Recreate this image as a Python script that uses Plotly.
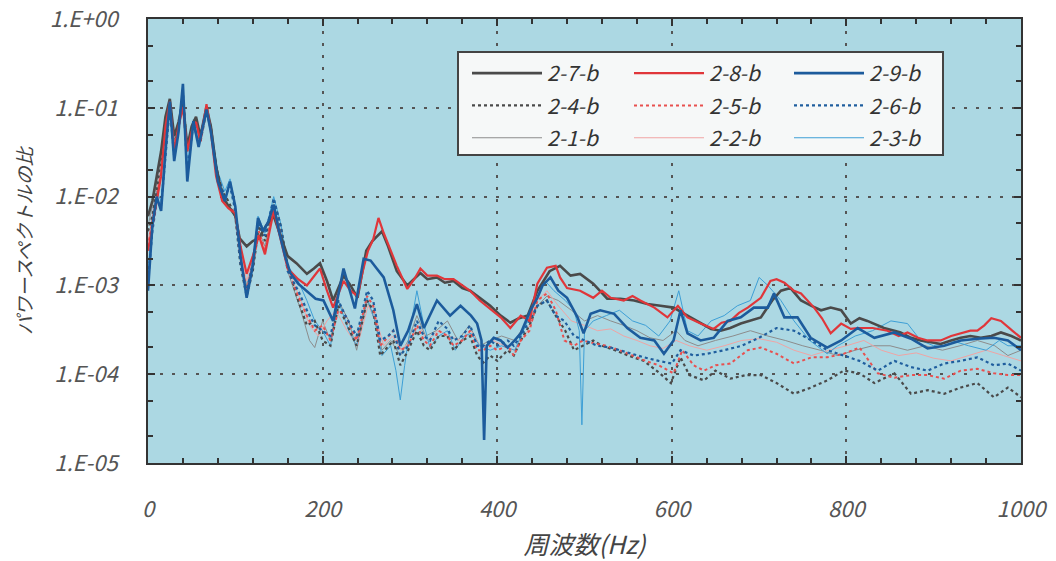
import numpy as np
import plotly.graph_objects as go

# Frequency (Hz) and log10 of the power-spectrum ratio for each record

freq_27b = [0, 5, 10, 15, 20, 25, 30, 35, 40, 45, 50, 55, 60, 67, 72, 78, 85, 92, 100, 105, 113, 120, 127, 135, 144, 150, 160, 170, 182, 190, 197, 205, 212, 224, 232, 240, 250, 257, 268, 275, 285, 297, 305, 312, 320, 331, 340, 350, 360, 369, 380, 392, 404, 415, 425, 435, 446, 460, 472, 484, 495, 510, 526, 541, 557, 572, 587, 602, 618, 633, 645, 656, 667, 679, 690, 702, 715, 725, 736, 748, 760, 771, 782, 794, 805, 815, 824, 835, 843, 855, 862, 874, 885, 897, 908, 920, 931, 942, 954, 966, 977, 989, 1000]
lg_27b = [-2.22, -2.05, -1.77, -1.49, -1.10, -0.90, -1.32, -1.16, -0.93, -1.44, -1.21, -1.10, -1.32, -0.99, -1.21, -1.66, -2.00, -2.11, -2.22, -2.47, -2.56, -2.50, -2.47, -2.33, -2.22, -2.39, -2.67, -2.75, -2.87, -2.81, -2.75, -2.95, -3.17, -2.89, -3.00, -3.14, -2.61, -2.50, -2.39, -2.56, -2.84, -3.00, -2.93, -2.86, -2.93, -2.91, -2.97, -2.95, -3.03, -3.06, -3.14, -3.23, -3.34, -3.42, -3.37, -3.34, -3.06, -2.84, -2.78, -2.89, -2.87, -2.98, -3.15, -3.15, -3.17, -3.21, -3.23, -3.25, -3.34, -3.42, -3.49, -3.51, -3.48, -3.43, -3.40, -3.36, -3.17, -3.06, -3.03, -3.17, -3.23, -3.28, -3.25, -3.28, -3.43, -3.37, -3.40, -3.45, -3.48, -3.51, -3.53, -3.59, -3.62, -3.64, -3.66, -3.62, -3.59, -3.57, -3.59, -3.57, -3.53, -3.57, -3.62]

freq_28b = [0, 5, 10, 15, 20, 25, 30, 35, 40, 45, 50, 55, 60, 67, 72, 78, 85, 92, 100, 106, 113, 120, 127, 134, 144, 152, 160, 172, 182, 197, 205, 212, 224, 232, 240, 246, 252, 258, 264, 270, 278, 285, 297, 305, 312, 320, 331, 340, 350, 360, 369, 380, 392, 404, 415, 427, 437, 446, 457, 467, 472, 480, 495, 510, 520, 530, 545, 555, 564, 580, 595, 607, 618, 633, 648, 657, 667, 677, 687, 702, 713, 720, 729, 740, 748, 763, 772, 782, 794, 805, 813, 830, 847, 860, 870, 882, 893, 908, 920, 931, 942, 950, 958, 966, 977, 990, 1000]
lg_28b = [-2.61, -2.33, -2.05, -1.77, -1.21, -0.93, -1.49, -1.21, -0.99, -1.49, -1.27, -1.16, -1.38, -0.96, -1.27, -1.77, -2.05, -2.13, -2.19, -2.56, -2.87, -2.67, -2.44, -2.65, -2.16, -2.50, -2.81, -2.93, -3.00, -2.81, -3.06, -3.25, -2.95, -3.06, -3.12, -2.84, -2.61, -2.48, -2.24, -2.41, -2.61, -2.78, -3.04, -2.93, -2.81, -2.89, -2.89, -2.93, -2.93, -3.00, -3.06, -3.17, -3.26, -3.36, -3.48, -3.34, -3.40, -2.98, -2.80, -2.78, -2.91, -3.03, -3.06, -3.14, -3.06, -3.14, -3.17, -3.12, -3.17, -3.25, -3.36, -3.23, -3.36, -3.43, -3.49, -3.42, -3.40, -3.31, -3.25, -3.14, -2.95, -2.93, -2.97, -3.06, -3.09, -3.25, -3.37, -3.54, -3.43, -3.49, -3.48, -3.48, -3.51, -3.57, -3.53, -3.59, -3.62, -3.62, -3.57, -3.54, -3.51, -3.51, -3.45, -3.37, -3.40, -3.51, -3.59]

freq_29b = [0, 5, 10, 15, 20, 25, 30, 35, 40, 45, 52, 58, 67, 72, 80, 88, 94, 100, 106, 113, 120, 126, 132, 138, 144, 150, 157, 163, 172, 182, 192, 201, 212, 224, 237, 247, 255, 262, 270, 281, 289, 298, 308, 316, 331, 346, 358, 370, 377, 382, 385, 388, 396, 404, 412, 420, 427, 438, 446, 452, 461, 470, 480, 492, 499, 507, 518, 534, 549, 564, 580, 591, 602, 610, 618, 633, 648, 664, 679, 694, 710, 717, 729, 744, 759, 778, 794, 813, 832, 855, 874, 893, 912, 931, 950, 969, 985, 1000]
lg_29b = [-3.06, -2.33, -2.00, -2.16, -1.49, -0.93, -1.60, -1.27, -0.73, -1.83, -1.15, -1.44, -1.02, -1.27, -1.83, -2.05, -1.83, -2.11, -2.67, -3.14, -2.78, -2.24, -2.39, -2.28, -2.09, -2.39, -2.67, -2.86, -2.98, -3.06, -3.15, -3.17, -3.40, -2.81, -3.26, -2.70, -2.72, -2.81, -2.91, -3.28, -3.68, -3.51, -3.21, -3.48, -3.17, -3.34, -3.23, -3.34, -3.43, -3.62, -4.74, -3.68, -3.59, -3.62, -3.70, -3.62, -3.54, -3.28, -3.14, -3.00, -2.91, -3.06, -3.14, -3.36, -3.54, -3.32, -3.28, -3.32, -3.48, -3.59, -3.62, -3.77, -3.62, -3.28, -3.54, -3.62, -3.59, -3.40, -3.36, -3.25, -3.25, -3.09, -3.36, -3.36, -3.59, -3.70, -3.62, -3.48, -3.59, -3.53, -3.60, -3.71, -3.68, -3.62, -3.60, -3.59, -3.62, -3.73]

freq_24b = [0, 5, 10, 15, 20, 25, 30, 35, 40, 45, 50, 55, 60, 67, 72, 78, 85, 92, 100, 106, 113, 120, 127, 134, 144, 152, 160, 172, 182, 191, 200, 209, 218, 226, 239, 251, 258, 266, 275, 281, 289, 298, 308, 316, 323, 333, 343, 350, 360, 369, 377, 384, 392, 400, 412, 419, 427, 437, 446, 457, 467, 478, 488, 498, 510, 520, 535, 550, 568, 585, 599, 610, 620, 637, 650, 667, 685, 702, 720, 740, 757, 778, 797, 815, 832, 855, 874, 893, 912, 931, 950, 969, 985, 1000]
lg_24b = [-2.39, -2.22, -1.94, -1.60, -1.21, -0.99, -1.44, -1.21, -0.87, -1.49, -1.24, -1.13, -1.38, -1.04, -1.21, -1.66, -1.94, -2.05, -2.22, -2.78, -3.12, -2.84, -2.33, -2.50, -2.05, -2.33, -2.78, -3.17, -3.45, -3.40, -3.62, -3.68, -3.23, -3.40, -3.68, -3.17, -3.28, -3.79, -3.68, -3.62, -3.90, -3.73, -3.51, -3.68, -3.73, -3.57, -3.57, -3.73, -3.62, -3.57, -3.79, -3.87, -3.79, -3.85, -3.73, -3.79, -3.62, -3.45, -3.23, -3.17, -3.34, -3.51, -3.73, -3.68, -3.62, -3.68, -3.73, -3.79, -3.85, -3.98, -4.10, -3.81, -4.01, -4.07, -3.96, -4.05, -4.01, -4.01, -4.10, -4.22, -4.16, -4.07, -3.96, -3.99, -4.10, -3.99, -4.22, -4.18, -4.22, -4.15, -4.10, -4.26, -4.15, -4.26]

freq_25b = [0, 5, 10, 15, 20, 25, 30, 35, 40, 45, 50, 55, 60, 67, 72, 78, 85, 92, 100, 106, 113, 120, 127, 134, 144, 152, 160, 172, 182, 191, 200, 209, 218, 226, 239, 251, 258, 266, 275, 281, 289, 298, 308, 316, 323, 333, 343, 350, 360, 369, 377, 384, 392, 400, 412, 419, 427, 437, 446, 457, 467, 477, 488, 498, 510, 525, 540, 555, 570, 585, 602, 612, 625, 637, 650, 667, 687, 702, 720, 740, 760, 778, 797, 815, 836, 855, 874, 893, 912, 931, 950, 969, 985, 1000]
lg_25b = [-2.56, -2.28, -2.00, -1.72, -1.24, -0.96, -1.47, -1.18, -0.96, -1.47, -1.24, -1.13, -1.36, -0.99, -1.24, -1.74, -2.03, -2.11, -2.19, -2.72, -3.06, -2.78, -2.39, -2.61, -2.11, -2.44, -2.81, -3.12, -3.34, -3.51, -3.45, -3.62, -3.28, -3.34, -3.62, -3.12, -3.23, -3.68, -3.57, -3.51, -3.73, -3.68, -3.45, -3.62, -3.68, -3.51, -3.57, -3.68, -3.62, -3.51, -3.73, -3.73, -3.68, -3.73, -3.68, -3.79, -3.62, -3.51, -3.17, -3.09, -3.28, -3.62, -3.68, -3.62, -3.65, -3.68, -3.73, -3.79, -3.85, -3.90, -3.99, -3.73, -3.90, -3.96, -3.90, -3.88, -3.73, -3.70, -3.77, -3.88, -3.81, -3.81, -3.77, -3.70, -3.99, -4.04, -4.01, -4.01, -4.05, -3.96, -3.94, -3.99, -4.01, -4.01]

freq_26b = [0, 5, 10, 15, 20, 25, 30, 35, 40, 45, 52, 58, 67, 72, 80, 88, 94, 100, 106, 113, 120, 126, 134, 144, 152, 160, 172, 182, 191, 200, 209, 218, 226, 239, 251, 258, 266, 275, 281, 289, 298, 308, 316, 323, 333, 343, 350, 360, 369, 377, 384, 392, 400, 412, 419, 427, 437, 446, 457, 467, 477, 488, 500, 515, 530, 550, 568, 585, 600, 610, 625, 640, 660, 680, 700, 720, 740, 760, 778, 797, 815, 836, 855, 874, 893, 912, 931, 950, 969, 985, 1000]
lg_26b = [-2.95, -2.39, -2.05, -2.11, -1.55, -0.99, -1.55, -1.24, -0.82, -1.72, -1.18, -1.40, -1.04, -1.24, -1.77, -2.00, -1.88, -2.16, -2.75, -3.08, -2.75, -2.30, -2.44, -2.02, -2.33, -2.84, -3.06, -3.28, -3.45, -3.51, -3.57, -3.17, -3.34, -3.57, -3.06, -3.17, -3.62, -3.57, -3.51, -3.79, -3.68, -3.40, -3.57, -3.62, -3.40, -3.49, -3.62, -3.57, -3.45, -3.68, -3.68, -3.62, -3.68, -3.62, -3.68, -3.57, -3.40, -3.23, -3.17, -3.34, -3.40, -3.57, -3.62, -3.68, -3.70, -3.76, -3.81, -3.85, -3.88, -3.73, -3.79, -3.77, -3.73, -3.68, -3.59, -3.48, -3.51, -3.62, -3.73, -3.79, -3.85, -3.96, -3.85, -3.92, -3.96, -3.88, -3.85, -3.81, -3.90, -3.88, -3.96]

freq_21b = [0, 5, 10, 15, 20, 25, 30, 35, 40, 45, 50, 55, 60, 67, 72, 78, 85, 92, 100, 106, 113, 120, 127, 134, 144, 152, 160, 175, 185, 191, 200, 209, 218, 230, 239, 251, 260, 268, 278, 289, 298, 308, 318, 330, 343, 355, 368, 380, 392, 405, 420, 435, 446, 457, 470, 485, 500, 515, 530, 545, 560, 575, 590, 605, 615, 630, 650, 670, 690, 710, 730, 750, 770, 790, 810, 830, 850, 870, 890, 910, 930, 950, 970, 985, 1000]
lg_21b = [-2.33, -2.11, -1.83, -1.55, -1.15, -0.93, -1.38, -1.18, -0.91, -1.47, -1.23, -1.12, -1.35, -1.01, -1.23, -1.69, -1.97, -2.09, -2.20, -2.67, -3.00, -2.75, -2.39, -2.56, -2.11, -2.39, -2.84, -3.28, -3.62, -3.70, -3.40, -3.62, -3.17, -3.40, -3.73, -3.17, -3.40, -3.73, -3.62, -3.79, -3.62, -3.34, -3.57, -3.51, -3.40, -3.62, -3.45, -3.68, -3.62, -3.57, -3.62, -3.40, -3.23, -3.12, -3.17, -3.28, -3.40, -3.34, -3.40, -3.45, -3.51, -3.59, -3.62, -3.51, -3.62, -3.68, -3.62, -3.57, -3.51, -3.57, -3.62, -3.68, -3.73, -3.79, -3.73, -3.68, -3.68, -3.73, -3.68, -3.73, -3.68, -3.62, -3.68, -3.79, -3.73]

freq_22b = [0, 5, 10, 15, 20, 25, 30, 35, 40, 45, 50, 55, 60, 67, 72, 78, 85, 92, 100, 106, 113, 120, 127, 134, 144, 152, 160, 175, 185, 195, 205, 215, 228, 240, 252, 262, 270, 280, 290, 300, 310, 320, 332, 345, 358, 370, 382, 395, 408, 420, 435, 446, 457, 470, 485, 500, 515, 530, 545, 560, 575, 590, 605, 620, 640, 660, 680, 700, 720, 740, 760, 780, 800, 820, 840, 860, 880, 900, 920, 940, 960, 980, 1000]
lg_22b = [-2.50, -2.25, -1.96, -1.69, -1.23, -0.95, -1.45, -1.20, -0.98, -1.48, -1.26, -1.14, -1.37, -0.98, -1.26, -1.75, -2.04, -2.12, -2.20, -2.61, -2.95, -2.72, -2.41, -2.61, -2.14, -2.48, -2.81, -3.17, -3.45, -3.57, -3.40, -3.28, -3.51, -3.68, -3.23, -3.40, -3.68, -3.57, -3.73, -3.62, -3.45, -3.62, -3.51, -3.57, -3.62, -3.51, -3.71, -3.62, -3.68, -3.73, -3.51, -3.17, -3.06, -3.23, -3.40, -3.45, -3.51, -3.49, -3.57, -3.62, -3.68, -3.71, -3.62, -3.68, -3.73, -3.68, -3.62, -3.60, -3.64, -3.73, -3.79, -3.73, -3.68, -3.62, -3.73, -3.79, -3.76, -3.82, -3.85, -3.79, -3.73, -3.79, -3.85]

freq_23b = [0, 5, 10, 15, 20, 25, 30, 35, 40, 45, 52, 58, 67, 72, 80, 88, 94, 100, 106, 113, 120, 126, 134, 144, 152, 160, 172, 182, 191, 200, 209, 218, 230, 239, 251, 260, 268, 278, 284, 289, 294, 300, 308, 315, 323, 333, 343, 352, 362, 370, 380, 392, 405, 420, 435, 446, 455, 465, 478, 488, 494, 497, 500, 510, 525, 540, 555, 570, 585, 598, 608, 618, 630, 645, 660, 675, 690, 700, 710, 725, 740, 758, 778, 790, 810, 830, 851, 870, 885, 900, 920, 940, 960, 975, 985, 1000]
lg_23b = [-2.84, -2.28, -1.94, -2.05, -1.44, -0.93, -1.49, -1.21, -0.80, -1.66, -1.13, -1.38, -1.00, -1.21, -1.72, -1.94, -1.80, -2.11, -2.70, -3.06, -2.72, -2.22, -2.41, -2.00, -2.30, -2.78, -2.95, -3.17, -3.40, -3.51, -3.68, -3.17, -3.51, -3.68, -3.14, -3.40, -3.79, -3.68, -3.96, -4.29, -3.90, -3.51, -3.06, -3.40, -3.70, -3.57, -3.51, -3.73, -3.57, -3.54, -3.68, -3.73, -3.68, -3.73, -3.40, -3.06, -2.95, -3.06, -3.17, -3.28, -3.51, -4.57, -3.51, -3.40, -3.34, -3.28, -3.40, -3.45, -3.57, -3.40, -3.06, -3.51, -3.57, -3.40, -3.34, -3.23, -3.17, -2.91, -3.00, -3.17, -3.40, -3.62, -3.77, -3.68, -3.57, -3.51, -3.40, -3.43, -3.62, -3.68, -3.62, -3.68, -3.73, -3.62, -3.68, -3.68]

# Tick labels
x_ticks = [0, 200, 400, 600, 800, 1000]
y_tickvals = [1, 1e-1, 1e-2, 1e-3, 1e-4, 1e-5]
y_ticktext = ["1.E+00", "1.E-01", "1.E-02", "1.E-03", "1.E-04", "1.E-05"]

FONT = "Noto Sans CJK JP"
GRAY, RED, BLUE = "#4a4a4a", "#e0363a", "#1c5b9c"

# name, freq, log-values, colour, dash, width, legend column
series = [
    ("2-7-b", freq_27b, lg_27b, GRAY, "solid", 2.6, "legend"),
    ("2-4-b", freq_24b, lg_24b, GRAY, "dot", 2.2, "legend"),
    ("2-1-b", freq_21b, lg_21b, "#8c8c8c", "solid", 1.0, "legend"),
    ("2-8-b", freq_28b, lg_28b, RED, "solid", 2.2, "legend2"),
    ("2-5-b", freq_25b, lg_25b, "#e8504f", "dot", 2.0, "legend2"),
    ("2-2-b", freq_22b, lg_22b, "#f0a4a4", "solid", 1.0, "legend2"),
    ("2-9-b", freq_29b, lg_29b, BLUE, "solid", 2.6, "legend3"),
    ("2-6-b", freq_26b, lg_26b, "#1f5e9e", "dot", 2.2, "legend3"),
    ("2-3-b", freq_23b, lg_23b, "#3d9fd6", "solid", 1.0, "legend3"),
]

# draw thin lines first, thick solid ones last
draw_order = [2, 5, 8, 1, 4, 7, 0, 3, 6]

fig = go.Figure()
for i in draw_order:
    name, f, lg, col, dash, w, leg = series[i]
    fig.add_trace(go.Scatter(
        x=f, y=10 ** np.array(lg), mode="lines", name=name,
        legend=leg, legendgroup=name, legendrank=i + 1,
        line=dict(color=col, dash=dash, width=w),
    ))

plot_l, plot_r, plot_t, plot_b = 148, 1021, 19, 463
W, H = 1056, 561
pw, ph = plot_r - plot_l, plot_b - plot_t

def px_x(px):
    return (px - plot_l) / pw

def px_y(py):
    return (plot_b - py) / ph

tick_font = dict(family=FONT, size=22, color="#555555", style="italic")
leg_font = dict(family=FONT, size=21, color="#333333", style="italic")
title_font = dict(family=FONT, size=25, color="#444444", style="italic")

legend_common = dict(
    yanchor="top", xanchor="left", bgcolor="rgba(0,0,0,0)", borderwidth=0,
    font=leg_font, itemwidth=70, traceorder="grouped", tracegroupgap=2,
    itemclick=False,
)

fig.update_layout(
    width=W, height=H,
    margin=dict(l=plot_l, r=W - plot_r, t=plot_t, b=H - plot_b, autoexpand=False),
    paper_bgcolor="white", plot_bgcolor="#acd8e3",
    showlegend=True,
    legend=dict(x=px_x(467), y=px_y(53), **legend_common),
    legend2=dict(x=px_x(629), y=px_y(53), **legend_common),
    legend3=dict(x=px_x(789), y=px_y(53), **legend_common),
    shapes=[dict(
        type="rect", xref="paper", yref="paper", layer="above",
        x0=px_x(458), x1=px_x(943), y0=px_y(155), y1=px_y(52),
        fillcolor="#f6f8f8", line=dict(color="#444444", width=2),
    )],
    xaxis=dict(
        range=[0, 1000], tickvals=x_ticks, showline=True, mirror="allticks",
        linecolor="#333333", linewidth=2, ticks="inside", ticklen=7,
        tickcolor="#333333", tickwidth=1.5, automargin=False,
        minor=dict(dtick=40, ticks="inside", ticklen=5, tickcolor="#333333", showgrid=False),
        showgrid=True, gridcolor="#555555", gridwidth=2, griddash="3px,9px",
        tickfont=tick_font, ticklabelstandoff=26, ticklabeloverflow="allow", zeroline=False,
        title=dict(text="周波数(Hz)", font=title_font, standoff=16),
    ),
    yaxis=dict(
        type="log", range=[-5, 0], tickvals=y_tickvals, ticktext=y_ticktext,
        showline=True, mirror="allticks", linecolor="#333333", linewidth=2,
        ticks="inside", ticklen=7, tickcolor="#333333", tickwidth=1.5, automargin=False,
        minor=dict(ticks="inside", ticklen=5, tickcolor="#333333", showgrid=False),
        showgrid=True, gridcolor="#555555", gridwidth=2, griddash="3px,9px",
        tickfont=tick_font, ticklabelstandoff=24, ticklabeloverflow="allow", zeroline=False,
        title=dict(text="パワースペクトルの比",
                   font=dict(family=FONT, size=19, color="#444444", style="italic"), standoff=12),
    ),
)

fig.write_html("out.html")
